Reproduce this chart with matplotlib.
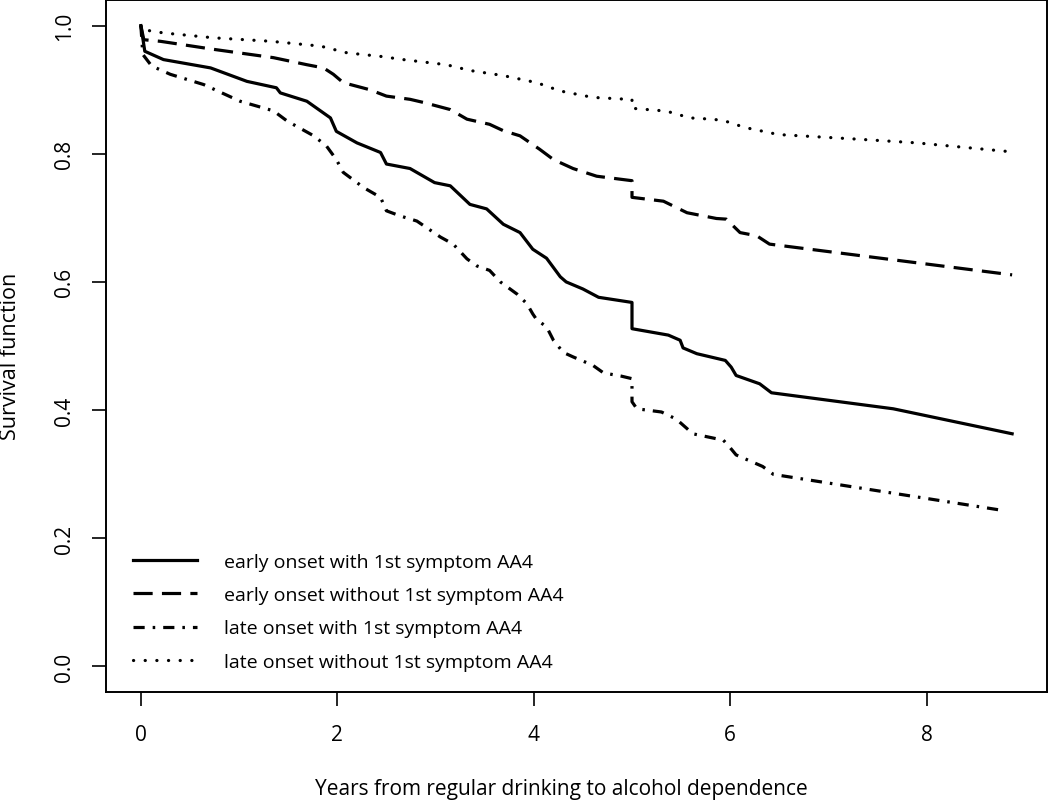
import matplotlib
matplotlib.use("Agg")
import matplotlib.pyplot as plt

plt.rcParams["font.family"] = ["Open Sans", "DejaVu Sans"]

# Kaplan-Meier style survival estimates
early_aa4_t = [0, 0.04, 0.23, 0.71, 1.08, 1.38, 1.42, 1.69, 1.93, 1.99, 2.2, 2.44, 2.5, 2.74,
               2.99, 3.15, 3.35, 3.52, 3.69, 3.86, 3.99, 4.13, 4.27, 4.33, 4.5, 4.66, 5.0, 5.0,
               5.37, 5.49, 5.52, 5.66, 5.95, 6.01, 6.06, 6.3, 6.42, 7.66, 8.87]
early_aa4_s = [1.0, 0.96, 0.947, 0.934, 0.913, 0.903, 0.895, 0.882, 0.856, 0.835, 0.817, 0.802,
               0.784, 0.777, 0.755, 0.75, 0.721, 0.714, 0.69, 0.677, 0.651, 0.637, 0.608, 0.6,
               0.589, 0.576, 0.568, 0.527, 0.517, 0.509, 0.497, 0.488, 0.4775, 0.467, 0.454,
               0.441, 0.427, 0.402, 0.363]

early_noaa4_t = [0, 0.03, 0.2, 0.74, 1.35, 1.69, 1.86, 1.96, 2.06, 2.33, 2.5, 2.74, 2.88, 3.15,
                 3.32, 3.55, 3.69, 3.86, 4.06, 4.2, 4.4, 4.64, 5.0, 5.0, 5.32, 5.56, 5.86, 5.96,
                 6.1, 6.27, 6.4, 8.87]
early_noaa4_s = [1.0, 0.978, 0.9755, 0.963, 0.95, 0.939, 0.934, 0.924, 0.911, 0.9, 0.89, 0.885,
                 0.88, 0.869, 0.854, 0.846, 0.836, 0.828, 0.807, 0.791, 0.777, 0.765, 0.758,
                 0.732, 0.726, 0.708, 0.699, 0.698, 0.677, 0.672, 0.659, 0.611]

late_aa4_t = [0, 0.02, 0.11, 0.3, 0.64, 1.01, 1.35, 1.49, 1.76, 1.89, 1.99, 2.06, 2.27, 2.44,
              2.5, 2.64, 2.81, 3.05, 3.18, 3.32, 3.42, 3.55, 3.66, 3.83, 3.93, 3.99, 4.03, 4.13,
              4.2, 4.3, 4.4, 4.6, 4.71, 4.89, 5.0, 5.0, 5.05, 5.3, 5.45, 5.62, 5.93, 5.99, 6.06,
              6.33, 6.44, 8.79]
late_aa4_s = [1.0, 0.955, 0.937, 0.924, 0.908, 0.882, 0.867, 0.851, 0.828, 0.812, 0.791, 0.771,
              0.747, 0.732, 0.711, 0.703, 0.695, 0.67, 0.659, 0.636, 0.625, 0.618, 0.6, 0.581,
              0.566, 0.55, 0.541, 0.53, 0.509, 0.49, 0.483, 0.47, 0.458, 0.453, 0.449, 0.413,
              0.402, 0.397, 0.386, 0.363, 0.353, 0.343, 0.33, 0.312, 0.2996, 0.243]

late_noaa4_t = [0, 0.01, 0.23, 0.74, 1.32, 1.83, 2.1, 2.44, 2.67, 3.11, 3.35, 3.69, 4.03, 4.27,
                4.6, 4.96, 5.0, 5.0, 5.35, 5.59, 5.81, 5.93, 6.15, 6.49, 7.32, 7.9, 8.84]
late_noaa4_s = [1.0, 0.994, 0.9886, 0.981, 0.9756, 0.968, 0.9575, 0.952, 0.947, 0.939, 0.93,
                0.922, 0.911, 0.898, 0.888, 0.885, 0.885, 0.871, 0.8666, 0.856, 0.854, 0.852,
                0.841, 0.83, 0.8226, 0.817, 0.8034]

labels = ["early onset with 1st symptom AA4",
          "early onset without 1st symptom AA4",
          "late onset with 1st symptom AA4",
          "late onset without 1st symptom AA4"]
x_ticks = [0, 2, 4, 6, 8]
y_ticks = [0.0, 0.2, 0.4, 0.6, 0.8, 1.0]

fig = plt.figure(figsize=(10.5, 8.04), dpi=100)
ax = fig.add_axes([106 / 1050, 1 - 693 / 804, 941 / 1050, 692 / 804])

lw = 2.3
ax.plot(early_aa4_t, early_aa4_s, color="black", lw=lw, label=labels[0])
ax.plot(early_noaa4_t, early_noaa4_s, color="black", lw=lw, dash_capstyle="butt",
        linestyle=(0, (6.0, 2.9)), label=labels[1])
ax.plot(late_aa4_t, late_aa4_s, color="black", lw=lw, dash_capstyle="butt",
        linestyle=(0, (3.5, 2.5, 0.8, 2.5)), label=labels[2])
ax.plot(late_noaa4_t, late_noaa4_s, color="black", lw=lw, dash_capstyle="round",
        linestyle=(0, (0.05, 3.6)), label=labels[3])

ax.set_xlim(-0.355, 9.225)
ax.set_ylim(-0.04, 1.04)
ax.set_xticks(x_ticks)
ax.set_xticklabels([str(v) for v in x_ticks])
ax.set_yticks(y_ticks)
ax.set_yticklabels([f"{v:.1f}" for v in y_ticks], rotation=90, va="center")

for sp in ax.spines.values():
    sp.set_linewidth(1.4)
ax.tick_params(axis="both", direction="out", length=10, width=1.2, labelsize=15)
ax.tick_params(axis="x", pad=13)
ax.tick_params(axis="y", pad=12)

ax.set_xlabel("Years from regular drinking to alcohol dependence", fontsize=15, va="center")
ax.xaxis.set_label_coords((561 - 106) / 941, (693 - 790) / 692)
ax.set_ylabel("Survival function", fontsize=15.5, va="center")
ax.yaxis.set_label_coords((11 - 106) / 941, (693 - 356) / 692)

ax.legend(loc="lower left", bbox_to_anchor=(0.0287, 0.031), frameon=False,
          fontsize=14, handlelength=3.3, handletextpad=1.39, labelspacing=0.78,
          borderpad=0, borderaxespad=0)

fig.savefig("out.png", dpi=100)
